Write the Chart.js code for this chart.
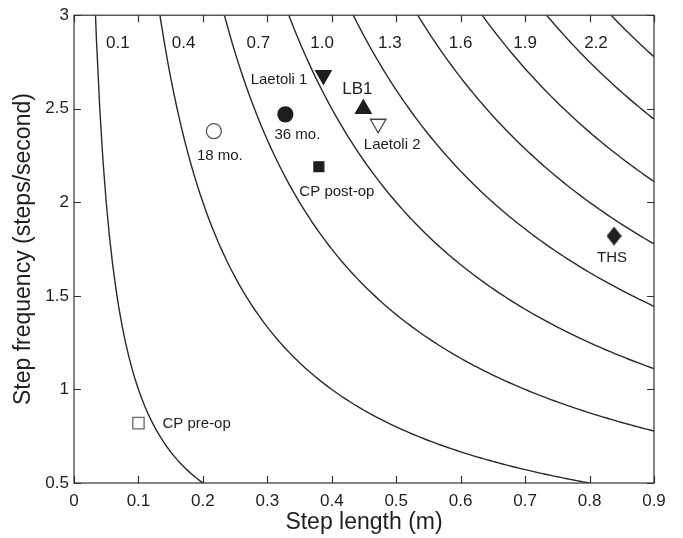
<!DOCTYPE html>
<html>
<head>
<meta charset="utf-8">
<script src="https://cdn.jsdelivr.net/npm/chart.js@4.4.0/dist/chart.umd.min.js"></script>
<style>
  html, body { margin: 0; padding: 0; background: #fff; }
  #wrap { width: 683px; height: 538px; }
</style>
</head>
<body>
<div id="wrap"><canvas id="gaitChart" width="683" height="538"></canvas></div>
<script>
// iso-speed contours (m/s), labelled ones and the unlabelled last one
const speeds = [0.1, 0.4, 0.7, 1.0, 1.3, 1.6, 1.9, 2.2, 2.5];
const speedLabels = ['0.1', '0.4', '0.7', '1.0', '1.3', '1.6', '1.9', '2.2'];
const speedLabelX = [0.068, 0.17, 0.286, 0.385, 0.49, 0.60, 0.70, 0.81];
const speedLabelY = 2.85;

// individual walkers
const subjects = ['18 mo.', '36 mo.', 'Laetoli 1', 'LB1', 'Laetoli 2', 'CP post-op', 'THS', 'CP pre-op'];
const stepLength = [0.217, 0.328, 0.387, 0.449, 0.472, 0.380, 0.838, 0.100];
const stepFreq = [2.38, 2.47, 2.68, 2.50, 2.42, 2.19, 1.82, 0.82];

// axis tick labels
const xTickLabels = ['0', '0.1', '0.2', '0.3', '0.4', '0.5', '0.6', '0.7', '0.8', '0.9'];
const yTickLabels = ['0.5', '1', '1.5', '2', '2.5', '3'];

const FONT = '"Liberation Sans", Arial, Helvetica, sans-serif';
const INK = '#1e1e1e';

// tall diamond marker (THS)
function diamond(w, h, color) {
    const c = document.createElement('canvas');
    c.width = w; c.height = h;
    const g = c.getContext('2d');
    g.fillStyle = color;
    g.beginPath();
    g.moveTo(w / 2, 0); g.lineTo(w, h / 2); g.lineTo(w / 2, h); g.lineTo(0, h / 2);
    g.closePath();
    g.fill();
    return c;
}

// marker styles, one per subject
const markerStyles = [
    { shape: 'circle', r: 7.5, fill: '#fff', stroke: '#555', dx: 6, dy: 25, align: 'center' },
    { shape: 'circle', r: 7.5, fill: INK, stroke: INK, dx: 12, dy: 20, align: 'center' },
    { shape: 'triangle', r: 9, rot: 180, fill: INK, stroke: INK, dx: -16, dy: 5, align: 'right' },
    { shape: 'triangle', r: 9, fill: INK, stroke: INK, dx: -6, dy: -19, align: 'center', size: 17 },
    { shape: 'triangle', r: 9, rot: 180, fill: '#fff', stroke: '#444', dx: 14, dy: 21, align: 'center' },
    { shape: 'rect', r: 7, fill: INK, stroke: INK, dx: 18, dy: 25, align: 'center' },
    { shape: diamond(15, 19, INK), r: 9, fill: INK, stroke: INK, dx: -2, dy: 22, align: 'center' },
    { shape: 'rect', r: 8, fill: '#fff', stroke: '#666', dx: 24, dy: 1, align: 'left' }
];

// contour line for one speed: frequency = speed / step length
function contour(v) {
    const pts = [];
    const xStart = v / 3;
    const xEnd = Math.min(0.9, v / 0.5);
    pts.push({ x: xStart, y: 3 });
    for (let s = 0; s <= 0.9; s += 0.005) {
        if (s > xStart && s < xEnd) pts.push({ x: s, y: v / s });
    }
    pts.push({ x: xEnd, y: v / xEnd });
    return pts;
}

const datasets = [];
speeds.forEach(function(v) {
    datasets.push({
        type: 'line',
        data: contour(v),
        borderColor: '#2a2a2a',
        borderWidth: 1.4,
        pointRadius: 0,
        fill: false,
        tension: 0
    });
});
subjects.forEach(function(name, i) {
    const st = markerStyles[i];
    datasets.push({
        type: 'scatter',
        label: name,
        data: [{ x: stepLength[i], y: stepFreq[i] }],
        pointStyle: st.shape,
        pointRadius: st.r,
        pointRotation: st.rot || 0,
        backgroundColor: st.fill,
        borderColor: st.stroke,
        borderWidth: 1.3
    });
});

// box, inward ticks and text annotations
const annotate = {
    id: 'annotate',
    afterDatasetsDraw(chart) {
        const { ctx, chartArea: a, scales: { x, y } } = chart;
        ctx.save();
        ctx.strokeStyle = '#333';
        ctx.lineWidth = 1.2;
        ctx.strokeRect(a.left, a.top, a.right - a.left, a.bottom - a.top);
        const len = 7;
        ctx.beginPath();
        x.ticks.forEach(function(t) {
            const px = Math.round(x.getPixelForValue(t.value)) + 0.5;
            ctx.moveTo(px, a.bottom); ctx.lineTo(px, a.bottom - len);
            ctx.moveTo(px, a.top); ctx.lineTo(px, a.top + len);
        });
        y.ticks.forEach(function(t) {
            const py = Math.round(y.getPixelForValue(t.value)) + 0.5;
            ctx.moveTo(a.left, py); ctx.lineTo(a.left + len, py);
            ctx.moveTo(a.right, py); ctx.lineTo(a.right - len, py);
        });
        ctx.stroke();

        // speed labels
        ctx.fillStyle = INK;
        ctx.textAlign = 'center';
        ctx.textBaseline = 'middle';
        ctx.font = '17px ' + FONT;
        speedLabels.forEach(function(lbl, i) {
            ctx.fillText(lbl, x.getPixelForValue(speedLabelX[i]), y.getPixelForValue(speedLabelY));
        });

        // subject labels
        subjects.forEach(function(name, i) {
            const st = markerStyles[i];
            ctx.font = (st.size || 15) + 'px ' + FONT;
            ctx.textAlign = st.align;
            ctx.fillText(name, x.getPixelForValue(stepLength[i]) + st.dx, y.getPixelForValue(stepFreq[i]) + st.dy);
        });
        ctx.restore();
    }
};

document.addEventListener('DOMContentLoaded', function() {
    const el = document.getElementById('gaitChart');
    new Chart(el, {
        type: 'scatter',
        data: { datasets: datasets },
        options: {
            responsive: false,
            animation: false,
            layout: { padding: { top: 13, right: 29, left: 0, bottom: 0 } },
            plugins: {
                legend: { display: false },
                tooltip: { enabled: false }
            },
            scales: {
                x: {
                    type: 'linear',
                    min: 0,
                    max: 0.9,
                    afterFit: function(s) { s.height = 55; },
                    grid: { display: false, drawTicks: false },
                    border: { display: false },
                    ticks: {
                        stepSize: 0.1,
                        padding: 8,
                        color: INK,
                        font: { family: FONT, size: 17 },
                        callback: function(v, i) { return xTickLabels[i]; }
                    },
                    title: {
                        display: true,
                        text: 'Step length (m)',
                        color: INK,
                        font: { family: FONT, size: 23 },
                        padding: { top: 0, bottom: 2 }
                    }
                },
                y: {
                    type: 'linear',
                    min: 0.5,
                    max: 3,
                    afterFit: function(s) { s.width = 74; },
                    grid: { display: false, drawTicks: false },
                    border: { display: false },
                    ticks: {
                        stepSize: 0.5,
                        padding: 5,
                        color: INK,
                        font: { family: FONT, size: 17 },
                        callback: function(v, i) { return yTickLabels[i]; }
                    },
                    title: {
                        display: true,
                        text: 'Step frequency (steps/second)',
                        color: INK,
                        font: { family: FONT, size: 23 },
                        padding: { top: 10, bottom: 0 }
                    }
                }
            }
        },
        plugins: [annotate]
    });
});
</script>
</body>
</html>
